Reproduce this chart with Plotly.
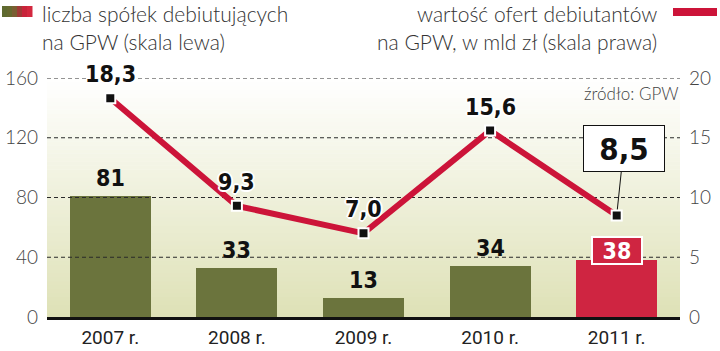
import plotly.graph_objects as go

# ---- data ----
years = ["2007 r.", "2008 r.", "2009 r.", "2010 r.", "2011 r."]
debut_count = [81, 33, 13, 34, 38]          # left axis
offer_value = [18.3, 9.3, 7.0, 15.6, 8.5]   # right axis, mld zł
count_labels = ["81", "33", "13", "34", "38"]
value_labels = ["18,3", "9,3", "7,0", "15,6", "8,5"]
left_ticks = [0, 40, 80, 120, 160]
right_ticks = [0, 5, 10, 15, 20]

W, H = 720, 351
ML, MR, MT, MB = 47, 40, 78, 34
PW, PH = W - ML - MR, H - MT - MB

def px(x):
    return (x - ML) / PW

def py(y):
    return (H - MB - y) / PH

idx = list(range(len(years)))
x_lo, x_hi = -0.5, len(years) - 0.5
y_top = left_ticks[-1]

GREEN = "#6b743d"
RED = "#cf2541"
LINE_RED = "#cc1439"
LABEL_FONT = "Liberation Sans Narrow, DejaVu Sans Condensed, sans-serif"
TEXT_FONT = "Lato, Roboto, sans-serif"
TICK_FONT = "Roboto, Lato, sans-serif"
HALO = "1px 1px 0 #fff, -1px -1px 0 #fff, 1px -1px 0 #fff, -1px 1px 0 #fff, 0 2px 0 #fff, 0 -2px 0 #fff, 2px 0 0 #fff, -2px 0 0 #fff"

def lerp_hex(c0, c1, t):
    a = [int(c0[i:i + 2], 16) for i in (1, 3, 5)]
    b = [int(c1[i:i + 2], 16) for i in (1, 3, 5)]
    return "#" + "".join(f"{round(a[k] + (b[k] - a[k]) * t):02x}" for k in range(3))

fig = go.Figure()

# bars
fig.add_trace(go.Bar(
    x=idx, y=debut_count, width=0.64,
    marker=dict(color=[GREEN] * (len(idx) - 1) + [RED], line=dict(width=0)),
    hoverinfo="skip", showlegend=False,
))

# dashed gridlines (above bars, below line)
gx, gy = [], []
for t in left_ticks[1:]:
    gx += [x_lo, x_hi, None]
    gy += [t, t, None]
fig.add_trace(go.Scatter(
    x=gx, y=gy, mode="lines", line=dict(color="#2a2a2a", width=1, dash="4px,3px"),
    hoverinfo="skip", showlegend=False,
))

# line on right axis
fig.add_trace(go.Scatter(
    x=idx, y=offer_value, yaxis="y2", mode="lines+markers",
    line=dict(color=LINE_RED, width=6),
    marker=dict(symbol="square", size=10, color="#111", line=dict(color="white", width=2)),
    hoverinfo="skip", showlegend=False,
))

annotations = []
# bar labels
for i, (v, lab) in enumerate(zip(debut_count, count_labels)):
    if i == len(idx) - 1:
        annotations.append(dict(
            x=i, y=v, xref="x", yref="y", text=lab, showarrow=False, yshift=10,
            font=dict(family=LABEL_FONT, size=23, color="white", weight="bold"),
            bgcolor=RED, bordercolor="white", borderwidth=2, width=46, height=23,
        ))
    else:
        annotations.append(dict(
            x=i, y=v, xref="x", yref="y", text=lab, showarrow=False, yshift=18,
            font=dict(family=LABEL_FONT, size=23, color="#111", weight="bold"),
        ))

# line labels
for i, (v, lab) in enumerate(zip(offer_value, value_labels)):
    if i == len(idx) - 1:
        annotations.append(dict(
            x=i, y=v, xref="x", yref="y2", text=lab, showarrow=True,
            ax=7, ay=-67, arrowhead=0, arrowwidth=1, arrowcolor="#111", standoff=6,
            font=dict(family=LABEL_FONT, size=31, color="#111", weight="bold"),
            bgcolor="white", bordercolor="#111", borderwidth=1, width=78, height=43,
        ))
    else:
        annotations.append(dict(
            x=i, y=v, xref="x", yref="y2", text=lab, showarrow=False, yshift=24,
            font=dict(family=LABEL_FONT, size=23, color="#111", weight="bold", shadow=HALO),
        ))

# legend texts
leg_font = dict(family=TEXT_FONT, size=21, color="#333", weight=300)
annotations += [
    dict(x=px(40), y=py(13), xref="paper", yref="paper", xanchor="left", yanchor="middle",
         text="liczba spółek debiutujących", showarrow=False, font=leg_font),
    dict(x=px(40), y=py(41), xref="paper", yref="paper", xanchor="left", yanchor="middle",
         text="na GPW (skala lewa)", showarrow=False, font=leg_font),
    dict(x=px(659), y=py(13), xref="paper", yref="paper", xanchor="right", yanchor="middle",
         text="wartość ofert debiutantów", showarrow=False, font=leg_font),
    dict(x=px(659), y=py(41), xref="paper", yref="paper", xanchor="right", yanchor="middle",
         text="na GPW, w mld zł (skala prawa)", showarrow=False, font=leg_font),
    dict(x=px(681), y=py(93), xref="paper", yref="paper", xanchor="right", yanchor="middle",
         text="źródło: GPW", showarrow=False,
         font=dict(family=TEXT_FONT, size=17, color="#444", weight=300)),
]

shapes = []
# plot-area background gradient (bands below traces)
NB = 60
for k in range(NB):
    t = (k + 0.5) / NB
    shapes.append(dict(type="rect", xref="paper", yref="paper", layer="below",
                       x0=0, x1=1, y0=k / NB, y1=(k + 1) / NB + 0.002,
                       fillcolor=lerp_hex("#dee1b6", "#ffffff", t), line=dict(width=0)))

# legend swatches
sw_cols = ["#5f6a30", "#66692f", "#7a5e32", "#a03a36", "#c8243a", "#d3283f"]
x0 = 2
step = 30 / len(sw_cols)
for k, c in enumerate(sw_cols):
    shapes.append(dict(type="rect", xref="paper", yref="paper",
                       x0=px(x0 + k * step), x1=px(x0 + (k + 1) * step + 0.5),
                       y0=py(17), y1=py(6), fillcolor=c, line=dict(width=0)))
shapes.append(dict(type="rect", xref="paper", yref="paper",
                   x0=px(673), x1=px(717), y0=py(16), y1=py(8),
                   fillcolor=LINE_RED, line=dict(width=0)))

tick_font = dict(family=TEXT_FONT, size=19, color="#444", weight=300)
fig.update_layout(
    width=W, height=H, margin=dict(l=ML, r=MR, t=MT, b=MB, autoexpand=False),
    paper_bgcolor="white", plot_bgcolor="rgba(0,0,0,0)",
    showlegend=False, bargap=0,
    xaxis=dict(range=[x_lo, x_hi], tickvals=idx, ticktext=years, showgrid=False,
               zeroline=False, showline=True, linewidth=3, linecolor="#111",
               ticks="", tickfont=dict(family=TICK_FONT, size=19, color="#222"),
               ticklabelstandoff=1, automargin=False, fixedrange=True),
    yaxis=dict(range=[0, y_top], tickvals=left_ticks, showgrid=False, zeroline=False,
               ticks="", tickfont=tick_font, ticklabelstandoff=8, automargin=False,
               fixedrange=True),
    yaxis2=dict(range=[0, right_ticks[-1]], tickvals=right_ticks, overlaying="y", side="right",
                showgrid=False, zeroline=False, ticks="", tickfont=tick_font,
                ticklabelstandoff=8, automargin=False, fixedrange=True),
    annotations=annotations, shapes=shapes,
)

fig.write_html("out.html", config={"displayModeBar": False})
